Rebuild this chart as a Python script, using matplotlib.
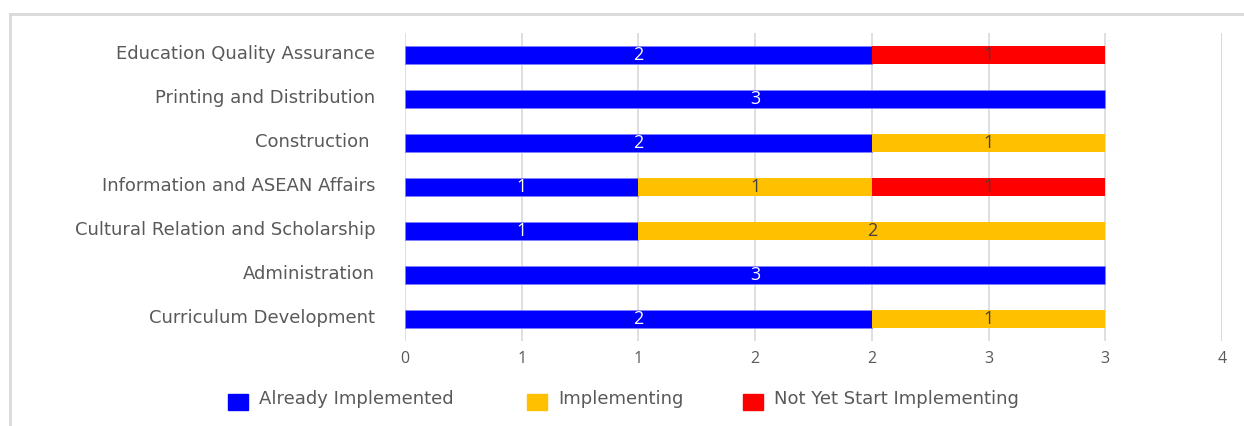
import matplotlib.pyplot as plt
from matplotlib.lines import Line2D
from matplotlib.patches import Rectangle
from matplotlib.transforms import ScaledTranslation
import numpy as np

# DATA ######
departments = ['Curriculum Development', 'Administration',
               'Cultural Relation and Scholarship', 'Information and ASEAN Affairs',
               'Construction ', 'Printing and Distribution',
               'Education Quality Assurance']
already_implemented = [2, 3, 1, 1, 2, 3, 2]
implementing = [1, 0, 2, 1, 1, 0, 0]
not_yet_started = [0, 0, 0, 1, 0, 0, 1]
series_names = ['Already Implemented', 'Implementing', 'Not Yet Start Implementing']
x_ticks = [0, 0.5, 1, 1.5, 2, 2.5, 3, 3.5]
x_tick_labels = ['0', '1', '1', '2', '2', '3', '3', '4']

colors = ['#0000FF', '#FFC000', '#FF0000']
edge_colors = ['#8080ff', 'none', 'none']
label_colors = ['white', '#404040', '#404040']
label_gray = '#595959'
W, H = 1244, 426

# PLOT ######
fig = plt.figure(figsize=(W / 100, H / 100), dpi=100)
ax = fig.add_axes([405 / W, 1 - 341 / H, (1222 - 405) / W, (341 - 33) / H])

y = np.arange(len(departments))
left = np.zeros(len(departments))
for vals, col, ecol, lcol in zip([already_implemented, implementing, not_yet_started],
                                 colors, edge_colors, label_colors):
    vals = np.array(vals, dtype=float)
    bars = ax.barh(y, vals, left=left, height=0.39, color=col,
                   edgecolor=ecol, linewidth=0.6, zorder=3)
    for b, v in zip(bars, vals):
        if v > 0:
            ax.text(b.get_x() + b.get_width() / 2, b.get_y() + b.get_height() / 2,
                    '%d' % v, ha='center', va='center', color=lcol,
                    fontsize=13, family='Open Sans', zorder=4)
    left += vals

ax.set_xlim(0, 3.5)
ax.set_ylim(-0.5, 6.5)
ax.set_xticks(x_ticks)
ax.set_xticklabels(x_tick_labels, fontsize=11.5, color=label_gray, family='Open Sans')
ax.set_yticks(y)
ax.set_yticklabels(departments, fontsize=13, color=label_gray, family='DejaVu Sans')
ax.tick_params(axis='y', length=0, pad=21.5)
ax.tick_params(axis='x', length=0, pad=7)
# category names sit a little above the bar centres
shift = ScaledTranslation(0, 3 / 100, fig.dpi_scale_trans)
for lbl in ax.get_yticklabels():
    lbl.set_transform(lbl.get_transform() + shift)
ax.xaxis.grid(True, color='#d9d9d9', linewidth=1.2, zorder=0)
for s in ax.spines.values():
    s.set_visible(False)
ax.axvline(3.5, color='#d9d9d9', linewidth=1.2, zorder=0)

# legend: colour squares with their names underneath the axis
legend_x = [228, 527, 743]
legend_y = 402
for x0, col, name in zip(legend_x, colors, series_names):
    fig.add_artist(Rectangle((x0 / W, 1 - (legend_y + 8) / H), 20 / W, 16 / H,
                             transform=fig.transFigure, facecolor=col,
                             edgecolor=col))
    fig.text((x0 + 31) / W, 1 - (legend_y - 3) / H, name, ha='left', va='center',
             fontsize=13, color=label_gray, family='DejaVu Sans')

# outer frame (top and left edges only)
fig.add_artist(Line2D([10 / W, 1], [1 - 14 / H, 1 - 14 / H],
                      transform=fig.transFigure, color='#d9d9d9', linewidth=2))
fig.add_artist(Line2D([10 / W, 10 / W], [0, 1 - 14 / H],
                      transform=fig.transFigure, color='#d9d9d9', linewidth=2))

fig.savefig('out.png', dpi=100)
